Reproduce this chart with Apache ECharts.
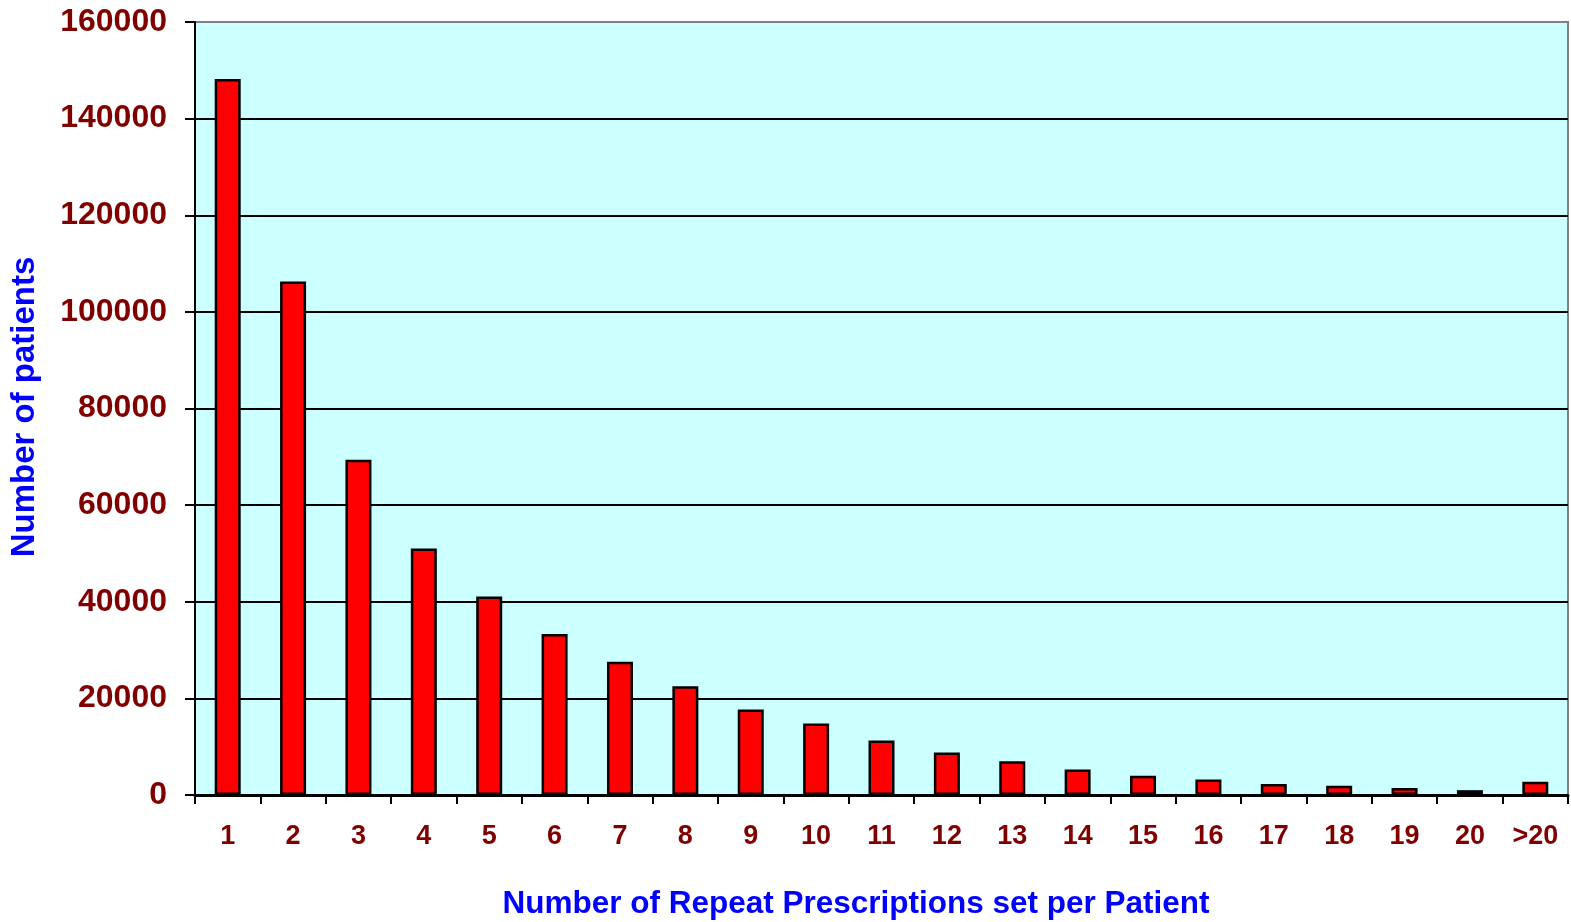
<!DOCTYPE html>
<html>
<head>
<meta charset="utf-8">
<title>Repeat prescriptions per patient</title>
<script src="https://cdn.jsdelivr.net/npm/echarts@6/dist/echarts.min.js"></script>
<style>
  html, body { margin: 0; padding: 0; background: #ffffff; }
  #chart { width: 1571px; height: 922px; }
</style>
</head>
<body>
<div id="chart"></div>
<script>
// Number of repeat prescriptions set per patient
const categories = ['1', '2', '3', '4', '5', '6', '7', '8', '9', '10',
  '11', '12', '13', '14', '15', '16', '17', '18', '19', '20', '>20'];

// Number of patients in each group
const patients = [148200, 106300, 69400, 51000, 41100, 33300, 27600, 22500,
  17700, 14800, 11300, 8800, 7000, 5300, 4000, 3200, 2300, 1900, 1450, 1000, 2750];

// Value axis range and step
const yMin = 0;
const yMax = 160000;
const yStep = 20000;

const labelColor = '#800000';
const titleColor = '#0000FF';
const fontFamily = 'Liberation Sans, Arial, sans-serif';

const chart = echarts.init(document.getElementById('chart'), null, { renderer: 'canvas' });

chart.setOption({
  animation: false,
  backgroundColor: '#ffffff',
  grid: {
    left: 195,
    right: 3,
    top: 22,
    bottom: 127,
    show: true,
    backgroundColor: '#CCFFFF',
    borderColor: '#808080',
    borderWidth: 2
  },
  xAxis: {
    type: 'category',
    data: categories,
    boundaryGap: true,
    axisLine: { show: true, lineStyle: { color: '#000000', width: 3 } },
    axisTick: {
      show: true,
      interval: 0,
      alignWithLabel: false,
      inside: false,
      length: 9,
      lineStyle: { color: '#000000', width: 2 }
    },
    axisLabel: {
      interval: 0,
      margin: 28,
      color: labelColor,
      fontSize: 27,
      fontWeight: 'bold',
      fontFamily: fontFamily
    },
    splitLine: { show: false }
  },
  yAxis: {
    type: 'value',
    min: yMin,
    max: yMax,
    interval: yStep,
    axisLine: { show: true, lineStyle: { color: '#000000', width: 2 } },
    axisTick: {
      show: true,
      inside: false,
      length: 10,
      lineStyle: { color: '#000000', width: 2 }
    },
    axisLabel: {
      margin: 28,
      color: labelColor,
      fontSize: 32,
      fontWeight: 'bold',
      fontFamily: fontFamily,
      formatter: function (v) { return String(v); }
    },
    splitLine: {
      show: true,
      showMinLine: false,
      showMaxLine: false,
      lineStyle: { color: '#000000', width: 2 }
    }
  },
  graphic: [
    {
      type: 'text',
      x: 25,
      y: 407,
      rotation: Math.PI / 2,
      style: {
        text: 'Number of patients',
        fill: titleColor,
        fontSize: 33,
        fontWeight: 'bold',
        fontFamily: fontFamily,
        align: 'center',
        verticalAlign: 'middle'
      },
      z: 10
    },
    {
      type: 'text',
      x: 856,
      y: 904,
      style: {
        text: 'Number of Repeat Prescriptions set per Patient',
        fill: titleColor,
        fontSize: 31.5,
        fontWeight: 'bold',
        fontFamily: fontFamily,
        align: 'center',
        verticalAlign: 'middle'
      },
      z: 10
    }
  ],
  series: [
    {
      type: 'bar',
      data: patients,
      barWidth: 26,
      itemStyle: {
        color: '#FF0000',
        borderColor: '#000000',
        borderWidth: 2.5
      }
    }
  ]
});
</script>
</body>
</html>
